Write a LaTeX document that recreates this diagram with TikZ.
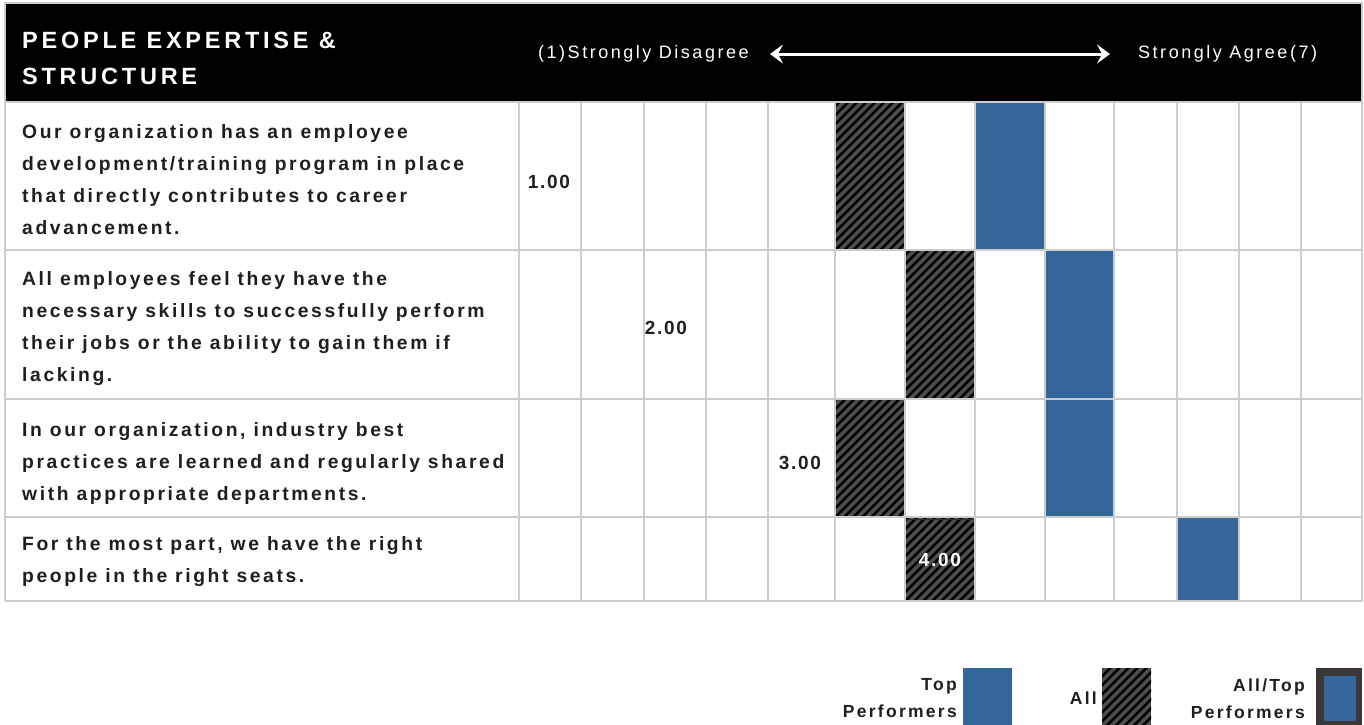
\documentclass[tikz,border=0pt]{standalone}
\usepackage{fontspec}
\setmainfont{Liberation Sans}
\newfontfamily\lsfont[LetterSpace=13.5]{Liberation Sans}
\newfontfamily\lstfont[LetterSpace=16]{Liberation Sans}
\newfontfamily\lshfont[LetterSpace=14]{Liberation Sans}
\newfontfamily\lsvfont[LetterSpace=9]{Liberation Sans}
\newfontfamily\lslfont[LetterSpace=13]{Liberation Sans}
\usetikzlibrary{arrows.meta,calc}
\definecolor{topblue}{RGB}{51,102,153}
\definecolor{hatchbg}{RGB}{77,77,77}
\definecolor{gridgray}{RGB}{204,204,204}
\definecolor{legborder}{RGB}{61,54,54}
\tikzset{
  gridline/.style={draw=gridgray, line width=2pt},
  topbar/.style={fill=topblue, draw=none, inner sep=0pt, anchor=north west},
  allbar/.style={fill=hatchbg, draw=none, inner sep=0pt, anchor=north west,
    path picture={
      \foreach \k in {-18,...,9}{
        \draw[black, line width=2.4pt]
          ([xshift=\k*9pt]path picture bounding box.south west) -- ++(170pt,170pt);
      }}},
  qtext/.style={font={\lsfont\bfseries\fontsize{19.3}{32}\selectfont}, align=left, inner sep=0pt, anchor=west, text=black!88},
  valtext/.style={font={\lsvfont\bfseries\fontsize{19}{22}\selectfont}, inner sep=0pt, text=black!88},
  headtext/.style={font={\lshfont\fontsize{18}{22}\selectfont}, inner sep=0pt, text=white},
  titletext/.style={font={\lstfont\bfseries\fontsize{23.5}{36}\selectfont}, align=left, inner sep=0pt, anchor=west, text=white},
  legtext/.style={font={\lslfont\bfseries\fontsize{17.5}{27}\selectfont}, align=right, inner sep=0pt, anchor=east, text=black!88},
}
\begin{document}
\begin{tikzpicture}[x=1pt,y=-1pt]
\useasboundingbox (0,0) rectangle (1364,724);
\fill[white] (0,0) rectangle (1364,724);
% header
\fill[black] (6,4) rectangle (1362,102);
\draw[gridline] (5,2.5) -- (1363,2.5);
\draw[gridline] (5,2) -- (5,601);
\draw[gridline] (1362,2) -- (1362,601);
\node[titletext] (title) at (22,58) {PEOPLE EXPERTISE \&\\STRUCTURE};
\node[headtext, anchor=west] (dis) at (538,54) {(1)Strongly Disagree};
\node[headtext, anchor=west] (agr) at (1138,54) {Strongly Agree(7)};
\coordinate (al) at (770,54);
\coordinate (ar) at (1110,54);
\draw[white, line width=3pt, {Stealth[length=13pt,width=19pt,inset=5pt]}-{Stealth[length=13pt,width=19pt,inset=5pt]}] (al) -- (ar);
% bars row 1
\node[allbar, minimum width=70pt, minimum height=148pt] (a1) at (835,102) {};
\node[topbar, minimum width=70pt, minimum height=148pt] (t1) at (975,102) {};
% row 2
\node[allbar, minimum width=70pt, minimum height=149pt] (a2) at (905,250) {};
\node[topbar, minimum width=69pt, minimum height=149pt] (t2) at (1045,250) {};
% row 3
\node[allbar, minimum width=70pt, minimum height=118pt] (a3) at (835,399) {};
\node[topbar, minimum width=69pt, minimum height=118pt] (t3) at (1045,399) {};
% row 4
\node[allbar, minimum width=70pt, minimum height=84pt] (a4) at (905,517) {};
\node[topbar, minimum width=62pt, minimum height=84pt] (t4) at (1177,517) {};
\draw[hatchbg!60!black, line width=1.5pt] (a4.north west) ++(0,-2.5pt) -- ++(70pt,0);
% grid
\foreach \yy in {102,250,399,517,601}{\draw[gridline] (5,\yy) -- (1363,\yy);}
\foreach \xx in {519,581,644,706,768,835,905,975,1045,1114,1177,1239,1301}{\draw[gridline] (\xx,102) -- (\xx,601);}
% question texts
\node[qtext] (q1) at (22,180) {Our organization has an employee\\development/training program in place\\that directly contributes to career\\advancement.};
\node[qtext] (q2) at (22,329) {All employees feel they have the\\necessary skills to successfully perform\\their jobs or the ability to gain them if\\lacking.};
\node[qtext] (q3) at (22,463) {In our organization, industry best\\practices are learned and regularly shared\\with appropriate departments.};
\node[qtext] (q4) at (22,562) {For the most part, we have the right\\people in the right seats.};
% values
\node[valtext] (v1) at (549,182) {1.00};
\node[valtext] (v2) at (666,328) {2.00};
\node[valtext] (v3) at (800,463) {3.00};
\node[valtext, text=white] (v4) at (940,560) {4.00};
% legend
\node[legtext] (lt) at (957,698.5) {Top\\Performers};
\node[topbar, minimum width=49pt, minimum height=62pt] (lbt) at (963,668) {};
\node[legtext] (la) at (1097,698) {All};
\node[allbar, minimum width=49pt, minimum height=62pt] (lba) at (1102,668) {};
\node[legtext] (lat) at (1305,698.5) {All/Top\\Performers};
\node[fill=legborder, inner sep=0pt, anchor=north west, minimum width=46pt, minimum height=62pt] (lbo) at (1316,668) {};
\node[topbar, minimum width=32pt, minimum height=45pt] (lbi) at (1324,676) {};
\end{tikzpicture}
\end{document}
